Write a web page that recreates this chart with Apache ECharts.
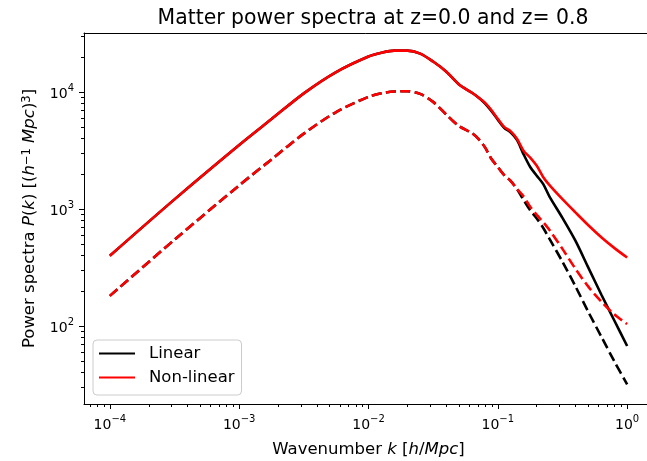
<!DOCTYPE html>
<html>
<head>
<meta charset="utf-8">
<script src="https://cdn.jsdelivr.net/npm/echarts@6/dist/echarts.min.js"></script>
<style>html,body{margin:0;padding:0;background:#fff}#c{width:647px;height:461px}</style>
</head>
<body>
<div id="c"></div>
<script>
// wavenumber k [h/Mpc]
const k = [1e-4, 3.16e-4, 1e-3, 1.78e-3, 3.16e-3, 5.62e-3, 0.01, 0.0126, 0.0158, 0.02, 0.0251, 0.0316, 0.0398, 0.0501,
  0.0631, 0.0708, 0.0794, 0.0891, 0.1, 0.112, 0.126, 0.141, 0.158, 0.178, 0.2, 0.224, 0.251, 0.316, 0.398, 0.501, 0.631, 0.794, 1.0];
// z = 0.0
const linearZ0 = [399, 1211, 3532, 5888, 9772, 14860, 20180, 21730, 22650, 22650, 21380, 18280, 15030, 11640,
  9886, 9016, 8035, 6918, 5821, 4955, 4519, 3890, 2951, 2291, 1928, 1641, 1279, 841, 537, 316, 186, 112, 67.5];
const nonlinearZ0 = [399, 1211, 3532, 5888, 9772, 14860, 20180, 21730, 22650, 22650, 21380, 18280, 15030, 11640,
  9886, 9016, 8128, 7031, 5916, 5047, 4624, 3981, 3162, 2754, 2344, 1884, 1603, 1216, 938, 728, 575, 466, 385];
// z = 0.8
const linearZ08 = [181, 547, 1596, 2661, 4416, 6761, 9120, 9772, 10140, 10190, 9661, 8260, 6457, 5129,
  4467, 3981, 3388, 2692, 2291, 1950, 1738, 1479, 1202, 977, 832, 692, 556, 355, 219, 132, 81.3, 50.1, 31.7];
const nonlinearZ08 = [181, 547, 1596, 2661, 4416, 6761, 9120, 9772, 10140, 10190, 9661, 8260, 6457, 5129,
  4467, 3981, 3388, 2692, 2291, 1950, 1738, 1479, 1288, 1047, 891, 776, 661, 457, 309, 217, 162, 126, 104];

const xMajorExp = [-4, -3, -2, -1, 0];
const yMajorExp = [2, 3, 4];
const xLim = [-4.2, 0.2];
const yLim = [1.333, 4.506];

const FONT = 'DejaVu Sans';
function minorTicks(lo, hi) {
  const out = [];
  for (let n = Math.floor(lo) - 1; n <= Math.ceil(hi); n++) {
    for (let m = 2; m <= 9; m++) {
      const v = n + Math.log10(m);
      if (v > lo && v < hi) out.push(v);
    }
  }
  return out;
}
function pts(P) { return k.map((v, i) => [Math.log10(v), Math.log10(P[i])]); }
function supLabel(v) {
  const e = Math.round(v);
  const s = e < 0 ? '\u2212' + (-e) : String(e);
  return '{b|10}{s|' + s + '}';
}
const labelRich = {
  b: { fontFamily: FONT, fontSize: 14, color: '#000', lineHeight: 18, verticalAlign: 'bottom' },
  s: { fontFamily: FONT, fontSize: 10, color: '#000', lineHeight: 10, verticalAlign: 'top' }
};
const nameRich = {
  n: { fontFamily: FONT, fontSize: 16.5, color: '#000' },
  i: { fontFamily: FONT, fontSize: 16.5, fontStyle: 'italic', color: '#000' },
  s: { fontFamily: FONT, fontSize: 11.5, fontStyle: 'normal', color: '#000', verticalAlign: 'top', lineHeight: 12 }
};
const lineAx = { show: true, onZero: false, lineStyle: { color: '#000', width: 1 } };
const noLine = { show: false, onZero: false };

const chart = echarts.init(document.getElementById('c'), null, { renderer: 'canvas' });
chart.setOption({
  animation: false,
  backgroundColor: '#fff',
  title: {
    text: 'Matter power spectra at z=0.0 and z= 0.8',
    left: 368, top: 4, textAlign: 'center',
    textStyle: { fontFamily: FONT, fontSize: 20.4, fontWeight: 'normal', color: '#000' }
  },
  grid: { left: 84, right: -6, top: 33, bottom: 57, containLabel: false, outerBoundsMode: 'none' },
  legend: {
    data: ['Linear', 'Non-linear'],
    orient: 'vertical', left: 93, top: 340,
    itemWidth: 36, itemHeight: 18, itemGap: 7,
    padding: [5, 7, 9, 5],
    borderColor: '#cccccc', borderWidth: 1, borderRadius: 4,
    backgroundColor: 'rgba(255,255,255,0.8)',
    itemStyle: { color: 'rgba(0,0,0,0)', borderWidth: 0, opacity: 0 },
    textStyle: { fontFamily: FONT, fontSize: 16.5, color: '#000', padding: [0, 0, 0, 9] }
  },
  xAxis: [
    {
      type: 'value', min: xLim[0], max: xLim[1], position: 'bottom',
      axisLine: lineAx,
      axisTick: { show: true, inside: false, length: 5, lineStyle: { color: '#000', width: 1 }, customValues: xMajorExp },
      axisLabel: { show: true, margin: 10, customValues: xMajorExp, formatter: supLabel, rich: labelRich },
      splitLine: { show: false },
      name: '{n|Wavenumber }{i|k}{n| [}{i|h}{n|/}{i|Mpc}{n|]}',
      nameLocation: 'middle', nameGap: 37,
      nameTextStyle: { rich: nameRich }
    },
    {
      type: 'value', min: xLim[0], max: xLim[1], position: 'bottom',
      axisLine: noLine,
      axisTick: { show: true, length: 3, lineStyle: { color: '#000', width: 1 }, customValues: minorTicks(xLim[0], xLim[1]) },
      axisLabel: { show: false }, splitLine: { show: false }
    },
    {
      type: 'value', min: xLim[0], max: xLim[1], position: 'top',
      axisLine: lineAx, axisTick: { show: false }, axisLabel: { show: false }, splitLine: { show: false }
    }
  ],
  yAxis: [
    {
      type: 'value', min: yLim[0], max: yLim[1], position: 'left',
      axisLine: lineAx,
      axisTick: { show: true, length: 5, lineStyle: { color: '#000', width: 1 }, customValues: yMajorExp },
      axisLabel: { show: true, margin: 10, customValues: yMajorExp, formatter: supLabel, rich: labelRich },
      splitLine: { show: false },
      name: '{n|Power spectra }{i|P}{n|(}{i|k}{n|) [(}{i|h}{s|\u22121}{n| }{i|Mpc}{n|)}{s|3}{n|]}',
      nameLocation: 'middle', nameRotate: 90, nameGap: 46,
      nameTextStyle: { rich: nameRich }
    },
    {
      type: 'value', min: yLim[0], max: yLim[1], position: 'left',
      axisLine: noLine,
      axisTick: { show: true, length: 3, lineStyle: { color: '#000', width: 1 }, customValues: minorTicks(yLim[0], yLim[1]) },
      axisLabel: { show: false }, splitLine: { show: false }
    },
    {
      type: 'value', min: yLim[0], max: yLim[1], position: 'right',
      axisLine: lineAx, axisTick: { show: false }, axisLabel: { show: false }, splitLine: { show: false }
    }
  ],
  series: [
    { name: 'Linear', type: 'line', data: pts(linearZ0), showSymbol: false, symbol: 'none', smooth: 0.3,
      lineStyle: { color: '#000', width: 2.6 }, itemStyle: { color: '#000' }, z: 2 },
    { name: 'Linear z=0.8', type: 'line', data: pts(linearZ08), showSymbol: false, symbol: 'none', smooth: 0.3,
      lineStyle: { color: '#000', width: 2.6, type: [10, 4.4] }, itemStyle: { color: '#000' }, z: 2 },
    { name: 'Non-linear', type: 'line', data: pts(nonlinearZ0), showSymbol: false, symbol: 'none', smooth: 0.3,
      lineStyle: { color: '#ff0000', width: 2.6 }, itemStyle: { color: '#ff0000' }, z: 3 },
    { name: 'Non-linear z=0.8', type: 'line', data: pts(nonlinearZ08), showSymbol: false, symbol: 'none', smooth: 0.3,
      lineStyle: { color: '#ff0000', width: 2.6, type: [10, 4.4] }, itemStyle: { color: '#ff0000' }, z: 3 }
  ]
});
</script>
</body>
</html>
